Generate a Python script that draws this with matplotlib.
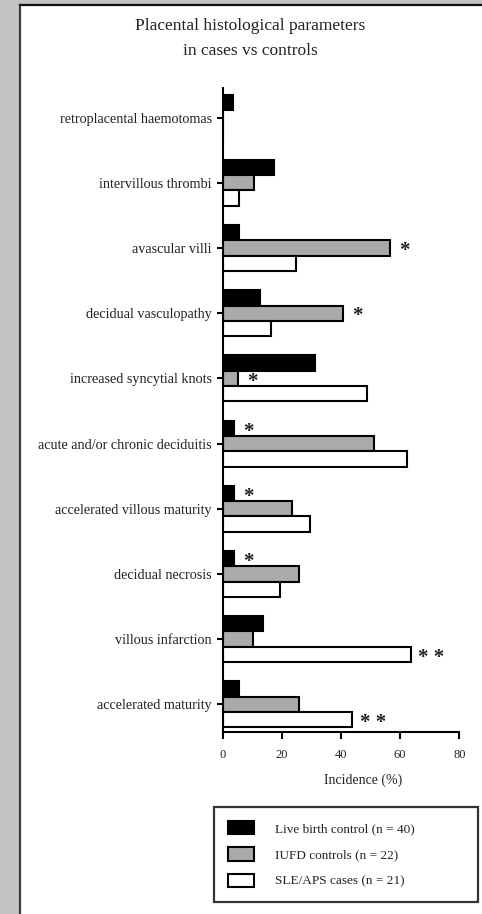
from __future__ import annotations
import numpy as np
import matplotlib
matplotlib.use("Agg")
import matplotlib.pyplot as plt
from matplotlib.patches import Rectangle
from matplotlib.lines import Line2D

# --------- data (incidence, %) ---------
categories = [
    "accelerated maturity",
    "villous infarction",
    "decidual necrosis",
    "accelerated villous maturity",
    "acute and/or chronic deciduitis",
    "increased syncytial knots",
    "decidual vasculopathy",
    "avascular villi",
    "intervillous thrombi",
    "retroplacental haemotomas",
]
live_birth = [5.3, 13.7, 3.6, 3.6, 3.6, 31.2, 12.5, 5.4, 17.1, 3.4]
iufd       = [25.8, 10.2, 25.8, 23.5, 51.0, 5.0, 40.6, 56.4, 10.4, 0.0]
sle_aps    = [43.8, 63.5, 19.4, 29.3, 62.4, 48.8, 16.3, 24.6, 5.3, 0.0]

series_labels = ["Live birth control (n = 40)", "IUFD controls (n = 22)", "SLE/APS cases (n = 21)"]
series_colors = ["#000000", "#aaaaaa", "#ffffff"]

# significance marks: (category index, series index, mark)
signif = [
    (7, 1, "*"),
    (6, 1, "*"),
    (5, 1, "*"),
    (4, 0, "*"),
    (3, 0, "*"),
    (2, 0, "*"),
    (1, 2, "* *"),
    (0, 2, "* *"),
]

xticks = [0, 20, 40, 60, 80]
# ---------------------------------------

W, H = 482, 914
BAR_H = 0.235
FONT = "Liberation Serif"


def main():
    plt.rcParams["font.family"] = [FONT, "DejaVu Serif"]
    fig = plt.figure(figsize=(W / 100, H / 100), dpi=100)
    fig.patch.set_facecolor("#c3c3c3")

    # white panel with its border
    fig.add_artist(Rectangle((20 / W, 0), 1 - 20 / W, 1 - 4.5 / H, transform=fig.transFigure,
                             facecolor="white", edgecolor="none", zorder=0))
    fig.add_artist(Line2D([20 / W, 20 / W], [0, 1 - 4.5 / H], transform=fig.transFigure,
                          color="#3c3c3c", lw=1.6))
    fig.add_artist(Line2D([20 / W, 1], [1 - 4.5 / H, 1 - 4.5 / H], transform=fig.transFigure,
                          color="#111111", lw=1.6))

    fig.text(250 / W, 1 - 26 / H, "Placental histological parameters", ha="center", va="center",
             fontsize=12.5, color="#222222")
    fig.text(250 / W, 1 - 51 / H, "in cases vs controls", ha="center", va="center",
             fontsize=12.5, color="#222222")

    left, right, top, bottom = 223, 459.3, 88, 732
    ax = fig.add_axes([left / W, 1 - bottom / H, (right - left) / W, (bottom - top) / H])
    ax.set_facecolor("none")

    y = np.arange(len(categories))
    offsets = [BAR_H, 0.0, -BAR_H]
    for vals, off, col, lab in zip([live_birth, iufd, sle_aps], offsets, series_colors, series_labels):
        ax.barh(y + off, vals, height=BAR_H, color=col, edgecolor="black", linewidth=1.5, label=lab)

    all_vals = [live_birth, iufd, sle_aps]
    for ci, si, mark in signif:
        v = all_vals[si][ci]
        dx = 7 if len(mark) > 1 else 5
        ax.text(v + dx, y[ci] + offsets[si] - 0.05, mark, ha="center", va="center",
                fontsize=15, fontweight="bold", color="#222222")

    ax.set_xlim(0, 80)
    ax.set_ylim(-0.425, 9.455)
    ax.set_xticks(xticks)
    ax.set_xticklabels([str(t) for t in xticks], fontsize=9, color="#222222")
    ax.set_yticks(y)
    ax.set_yticklabels(categories, fontsize=10.2, color="#222222")
    ax.tick_params(axis="x", length=5, width=1.5, pad=7)
    ax.tick_params(axis="y", length=4, width=1.5, pad=4)
    for s in ["top", "right"]:
        ax.spines[s].set_visible(False)
    for s in ["left", "bottom"]:
        ax.spines[s].set_linewidth(1.5)

    ax.set_xlabel("Incidence (%)", fontsize=10, color="#222222")
    ax.xaxis.set_label_coords((363 - left) / (right - left), -(774 - bottom) / (bottom - top))

    handles, labels = ax.get_legend_handles_labels()
    leg = fig.legend(handles, labels, loc="upper left",
                     bbox_to_anchor=(214 / W, 1 - 807 / H, (478 - 214) / W, 0.0),
                     mode="expand", borderaxespad=0, fancybox=False, fontsize=9.5,
                     handlelength=2.0, handleheight=1.2, handletextpad=1.55,
                     labelspacing=0.92, borderpad=1.05, frameon=True)
    leg.get_frame().set_edgecolor("black")
    leg.get_frame().set_linewidth(1.6)
    for t in leg.get_texts():
        t.set_color("#222222")

    fig.savefig("out.png", dpi=100, facecolor=fig.get_facecolor())


if __name__ == "__main__":
    main()
